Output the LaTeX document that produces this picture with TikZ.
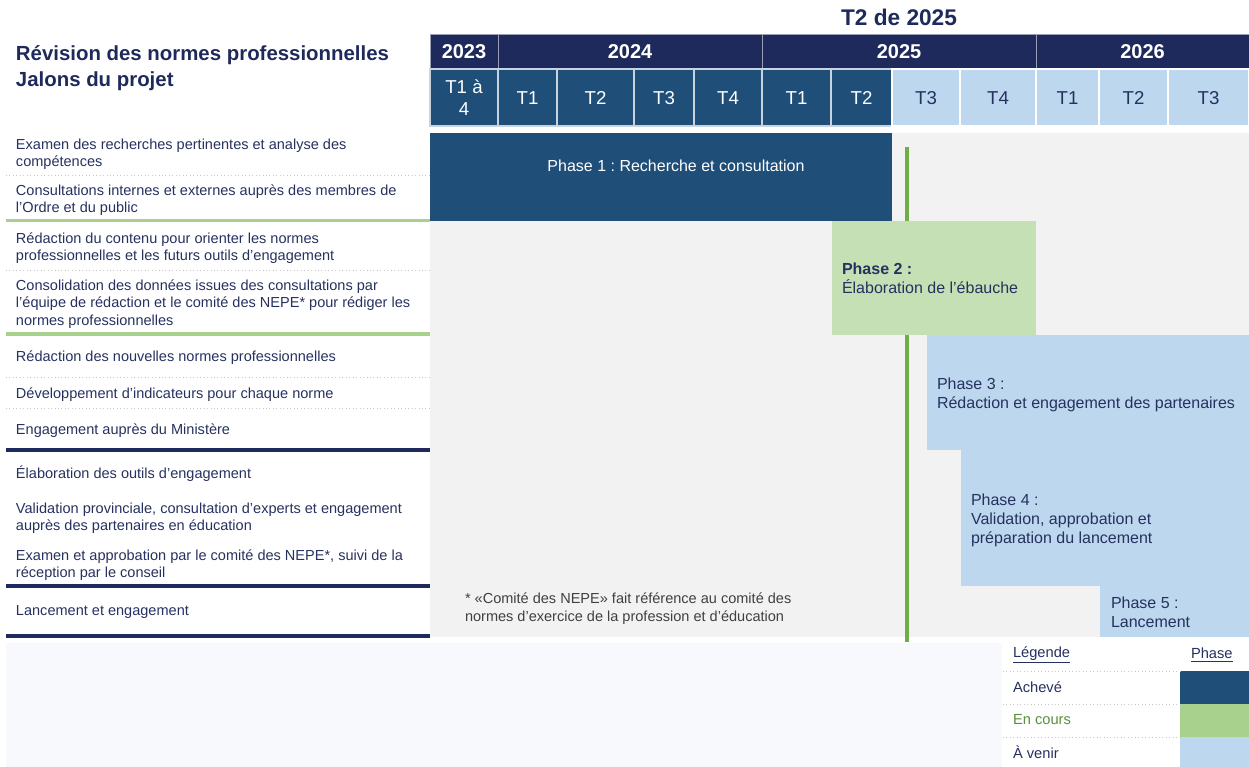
\documentclass[tikz,border=0pt]{standalone}
\usepackage{fontspec}
\setmainfont{Liberation Sans}
\usetikzlibrary{positioning}
\frenchspacing

\definecolor{navy}{HTML}{1F2A5C}
\definecolor{txtnavy}{HTML}{26315F}
\definecolor{dkblue}{HTML}{1F4E79}
\definecolor{ltblue}{HTML}{BDD7EE}
\definecolor{ltgreen}{HTML}{C5E0B4}
\definecolor{midgreen}{HTML}{A9D18E}
\definecolor{nowgreen}{HTML}{70AD47}
\definecolor{txtgreen}{HTML}{5A8F3C}
\definecolor{bggray}{HTML}{F2F2F2}
\definecolor{paleblue}{HTML}{F7F9FD}
\definecolor{dotgray}{HTML}{C8C8C8}
\newlength\px
\setlength\px{0.75pt}

\begin{document}
\begin{tikzpicture}[x=0.75pt,y=-0.75pt,
	every node/.style={inner sep=0pt,outer sep=0pt},
	ycell/.style={fill=navy,draw=white!55!navy,line width=0.6pt,minimum height=35\px,
		text=white,font=\fontsize{15}{18}\selectfont\bfseries},
	qcell/.style={fill=dkblue,draw=white!75!dkblue,line width=0.8pt,minimum height=57\px,
		text=white,align=center,font=\fontsize{14}{17}\selectfont,text height=10pt,text depth=0pt},
	qnext/.style={qcell,fill=ltblue,draw=white,text=txtnavy},
	task/.style={anchor=west,align=left,text=txtnavy,font=\fontsize{10.9}{13}\selectfont},
	phasetxt/.style={anchor=west,align=left,text=txtnavy,font=\fontsize{12}{14.3}\selectfont},
	legtxt/.style={anchor=west,text=txtnavy,font=\fontsize{11}{13}\selectfont},
	dotsep/.style={dotgray,dotted,line width=0.6pt},
	greensep/.style={midgreen,line width=2.4pt},
	navysep/.style={navy,line width=3pt}]
	\useasboundingbox (0,0) rectangle (1249,767);
	
	% backgrounds
	\fill[paleblue] (6,643) rectangle (1002,767);
	\fill[white] (1002,643) rectangle (1249,767);
	\fill[bggray] (430,133) rectangle (1249,637);
	
	% titles
	\node[anchor=west,align=left,text=navy,font=\fontsize{15.3}{19.5}\selectfont\bfseries](title)
		at (16,68){Révision des normes professionnelles\\Jalons du projet};
	\node[text=navy,font=\fontsize{17}{20}\selectfont\bfseries](now) at (899,17){T2 de 2025};
	
	% years
	\node[ycell,minimum width=68\px](y23) at (464,51.5){2023};
	\node[ycell,minimum width=264\px](y24) at (630,51.5){2024};
	\node[ycell,minimum width=274\px](y25) at (899,51.5){2025};
	\node[ycell,minimum width=213\px](y26) at (1142.5,51.5){2026};
	
	% quarters
	\node[qcell,minimum width=68\px,text height=,text depth=](q0) at (464,97.5){T1 à\\4};
	\node[qcell,minimum width=59\px](q1) at (527.5,97.5){T1};
	\node[qcell,minimum width=77\px](q2) at (595.5,97.5){T2};
	\node[qcell,minimum width=60\px](q3) at (664,97.5){T3};
	\node[qcell,minimum width=68\px](q4) at (728,97.5){T4};
	\node[qcell,minimum width=69\px](q5) at (796.5,97.5){T1};
	\node[qcell,minimum width=61\px](q6) at (861.5,97.5){T2};
	\node[qnext,minimum width=68\px](q7) at (926,97.5){T3};
	\node[qnext,minimum width=76\px](q8) at (998,97.5){T4};
	\node[qnext,minimum width=63\px](q9) at (1067.5,97.5){T1};
	\node[qnext,minimum width=69\px](q10) at (1133.5,97.5){T2};
	\node[qnext,minimum width=81\px](q11) at (1208.5,97.5){T3};
	
	% current quarter
	\draw[nowgreen,line width=2.3pt] (907,147) -- (907,642);
	
	% phases
	\fill[dkblue] (430,133) rectangle (892,221);
	\fill[ltgreen] (832,221) rectangle (1036,335);
	\fill[ltblue] (927,335) rectangle (1249,450);
	\fill[ltblue] (961,450) rectangle (1249,586);
	\fill[ltblue] (1100,586) rectangle (1249,637);
	\node[text=white,font=\fontsize{12}{14.3}\selectfont](p1) at (676,166){Phase 1 : Recherche et consultation};
	\node[phasetxt](p2) at (842,278){\textbf{Phase 2 :}\\Élaboration de l’ébauche};
	\node[phasetxt](p3) at (937,395){Phase 3 :\\Rédaction et engagement des partenaires};
	\node[phasetxt](p4) at (971,520){Phase 4 :\\Validation, approbation et\\préparation du lancement};
	\node[phasetxt](p5) at (1111,612){Phase 5 :\\Lancement};
	
	% tasks
	\node[task](r1) at (16,154){Examen des recherches pertinentes et analyse des\\compétences};
	\node[task](r2) at (16,200){Consultations internes et externes auprès des membres de\\l’Ordre et du public};
	\node[task](r3) at (16,248){Rédaction du contenu pour orienter les normes\\professionnelles et les futurs outils d’engagement};
	\node[task](r4) at (16,304){Consolidation des données issues des consultations par\\l’équipe de rédaction et le comité des NEPE* pour rédiger les\\normes professionnelles};
	\node[task](r5) at (16,358){Rédaction des nouvelles normes professionnelles};
	\node[task](r6) at (16,395){Développement d’indicateurs pour chaque norme};
	\node[task](r7) at (16,431){Engagement auprès du Ministère};
	\node[task](r8) at (16,474){Élaboration des outils d’engagement};
	\node[task](r9) at (16,518){Validation provinciale, consultation d’experts et engagement\\auprès des partenaires en éducation};
	\node[task](r10) at (16,565){Examen et approbation par le comité des NEPE*, suivi de la\\réception par le conseil};
	\node[task](r11) at (16,612){Lancement et engagement};
	
	\draw[dotsep] (6,175.5) -- (430,175.5);
	\draw[greensep] (6,220.5) -- (430,220.5);
	\draw[dotsep] (6,270.5) -- (430,270.5);
	\draw[greensep] (6,334) -- (430,334);
	\draw[dotsep] (6,377.5) -- (430,377.5);
	\draw[dotsep] (6,408) -- (430,408);
	\draw[navysep] (6,450) -- (430,450);
	\draw[navysep] (6,586) -- (430,586);
	\draw[navysep] (6,636) -- (430,636);
	
	% footnote
	\node[task,text=black!75](note) at (465,608.5){* «Comité des NEPE» fait référence au comité des\\normes d’exercice de la profession et d’éducation};
	
	% legend
	\node[legtxt](leg) at (1013,655){\underline{Légende}};
	\node[legtxt](legph) at (1191,655){\underline{Phase}};
	\node[legtxt](done) at (1013,687){Achevé};
	\node[legtxt,text=txtgreen](doing) at (1013,719.5){En cours};
	\node[legtxt](todo) at (1013,752){À venir};
	\fill[dkblue] (1180,671) rectangle (1249,704);
	\fill[midgreen] (1180,704) rectangle (1249,737);
	\fill[ltblue] (1180,737) rectangle (1249,767);
	\draw[dotsep] (1003,671) -- (1180,671);
	\draw[dotsep] (1003,704) -- (1180,704);
	\draw[dotsep] (1003,737) -- (1180,737);
\end{tikzpicture}
\end{document}
